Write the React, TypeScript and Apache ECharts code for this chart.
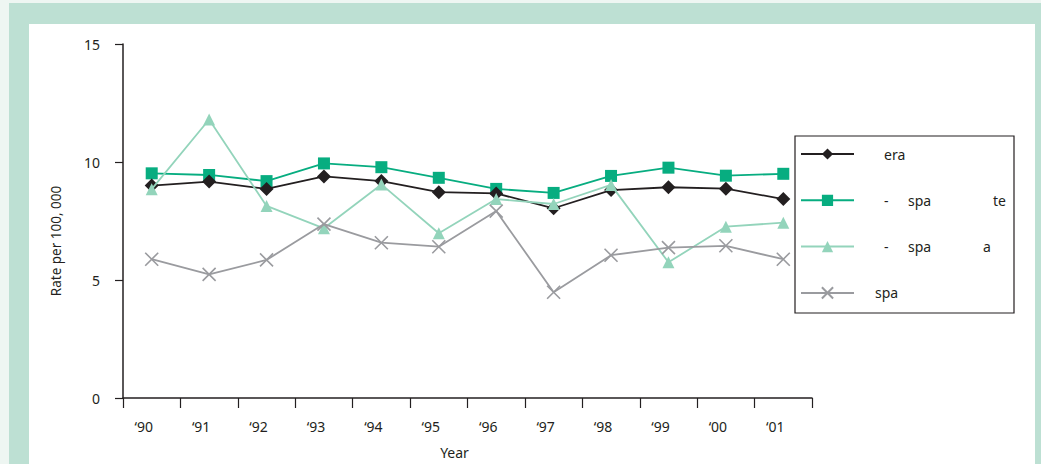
import React, { useEffect, useRef } from "react";
import * as echarts from "echarts";

const years = ["‘90", "‘91", "‘92", "‘93", "‘94", "‘95", "‘96", "‘97", "‘98", "‘99", "‘00", "‘01"];
const overall = [9.0, 9.17, 8.86, 9.39, 9.19, 8.72, 8.67, 8.04, 8.81, 8.93, 8.87, 8.43];
const groupSquare = [9.52, 9.45, 9.19, 9.94, 9.78, 9.33, 8.86, 8.69, 9.41, 9.76, 9.42, 9.5];
const groupTriangle = [8.85, 11.8, 8.14, 7.19, 9.05, 6.98, 8.43, 8.22, 9.03, 5.75, 7.26, 7.43];
const groupCross = [5.88, 5.24, 5.85, 7.37, 6.58, 6.41, 7.92, 4.48, 6.05, 6.37, 6.45, 5.88];
const yTicks = [0, 5, 10, 15];

const FONT = "'Noto Sans', sans-serif";
const INK = "#231f20";

const App: React.FC = () => {
  const chartRef = useRef<HTMLDivElement>(null);

  useEffect(() => {
    if (!chartRef.current) return;
    const chart = echarts.init(chartRef.current, undefined, { renderer: "svg" });

    const labels: Record<string, string> = {
      "era": "{p25| }{t|era}",
      "- spa te": "{p25| }{a|-}{b|spa}{t|te}",
      "- spa a": "{p25| }{a|-}{c|spa}{t|a}",
      "spa": "{p16| }{t|spa}",
    };

    chart.setOption({
      animation: false,
      textStyle: { fontFamily: FONT },
      graphic: [
        {
          type: "rect",
          shape: { x: 795, y: 136, width: 219, height: 177 },
          style: { fill: "#fff", stroke: INK, lineWidth: 1.2 },
          z: 0,
        },
      ],
      legend: {
        orient: "vertical",
        left: 800,
        top: 147,
        padding: 0,
        itemWidth: 53,
        itemHeight: 14,
        itemGap: 32.3,
        data: ["era", "- spa te", "- spa a", "spa"],
        formatter: (name: string) => labels[name],
        textStyle: {
          color: INK,
          fontSize: 14,
          fontFamily: FONT,
          rich: {
            p25: { width: 25, lineHeight: 14 },
            p16: { width: 16, lineHeight: 14 },
            a: { width: 24, fontSize: 14, color: INK, lineHeight: 14 },
            b: { width: 85, fontSize: 14, color: INK, lineHeight: 14 },
            c: { width: 75, fontSize: 14, color: INK, lineHeight: 14 },
            t: { fontSize: 14, color: INK, lineHeight: 14 },
          },
        },
      },
      grid: { left: 123, right: 229, top: 44, bottom: 66 },
      xAxis: {
        type: "category",
        data: years,
        boundaryGap: true,
        name: "Year",
        nameLocation: "middle",
        nameGap: 47,
        nameTextStyle: { color: INK, fontSize: 14, padding: [0, 26, 0, 0] },
        axisLine: { lineStyle: { color: INK, width: 1.5 } },
        axisTick: { show: true, alignWithLabel: false, length: 10, lineStyle: { color: INK, width: 1.2 } },
        axisLabel: { color: INK, fontSize: 14, margin: 21, padding: [0, 16, 0, 0] },
        splitLine: { show: false },
      },
      yAxis: {
        type: "value",
        min: yTicks[0],
        max: yTicks[yTicks.length - 1],
        interval: 5,
        name: "Rate per 100, 000",
        nameLocation: "middle",
        nameGap: 60,
        nameRotate: 90,
        nameTextStyle: { color: INK, fontSize: 13.5, padding: [0, 40, 0, 0] },
        axisLine: { show: true, lineStyle: { color: INK, width: 1.5 } },
        axisTick: { show: true, length: 8, lineStyle: { color: INK, width: 1.2 } },
        axisLabel: { color: INK, fontSize: 14, margin: 23, padding: [4, 0, 0, 0] },
        splitLine: { show: false },
      },
      series: [
        {
          name: "era",
          type: "line",
          data: overall,
          symbol: "diamond",
          symbolSize: 14,
          z: 3,
          itemStyle: { color: INK },
          lineStyle: { color: INK, width: 1.8 },
        },
        {
          name: "- spa te",
          type: "line",
          data: groupSquare,
          symbol: "rect",
          symbolSize: 12,
          z: 2,
          itemStyle: { color: "#07ad80" },
          lineStyle: { color: "#07ad80", width: 1.8 },
        },
        {
          name: "- spa a",
          type: "line",
          data: groupTriangle,
          symbol: "triangle",
          symbolSize: 12,
          z: 4,
          itemStyle: { color: "#93d4bb" },
          lineStyle: { color: "#93d4bb", width: 1.8 },
        },
        {
          name: "spa",
          type: "line",
          data: groupCross,
          symbol: "path://M0,0L10,10M10,0L0,10",
          symbolSize: 13,
          z: 5,
          itemStyle: { color: "#9a9b9f", borderColor: "#9a9b9f", borderWidth: 1.6 },
          lineStyle: { color: "#9a9b9f", width: 1.8 },
        },
      ],
    });

    return () => {
      chart.dispose();
    };
  }, []);

  return (
    <div style={{ position: "fixed", left: 0, top: 0, width: 1041, height: 464, background: "#eef6f2", overflow: "hidden" }}>
      <div style={{ position: "absolute", left: 9, top: 3, width: 1032, height: 461, background: "#bde0d3" }} />
      <div style={{ position: "absolute", left: 29, top: 24, width: 1006, height: 440, background: "#ffffff" }} />
      <div ref={chartRef} style={{ position: "absolute", left: 0, top: 0, width: 1041, height: 464 }} />
    </div>
  );
};

export default App;
